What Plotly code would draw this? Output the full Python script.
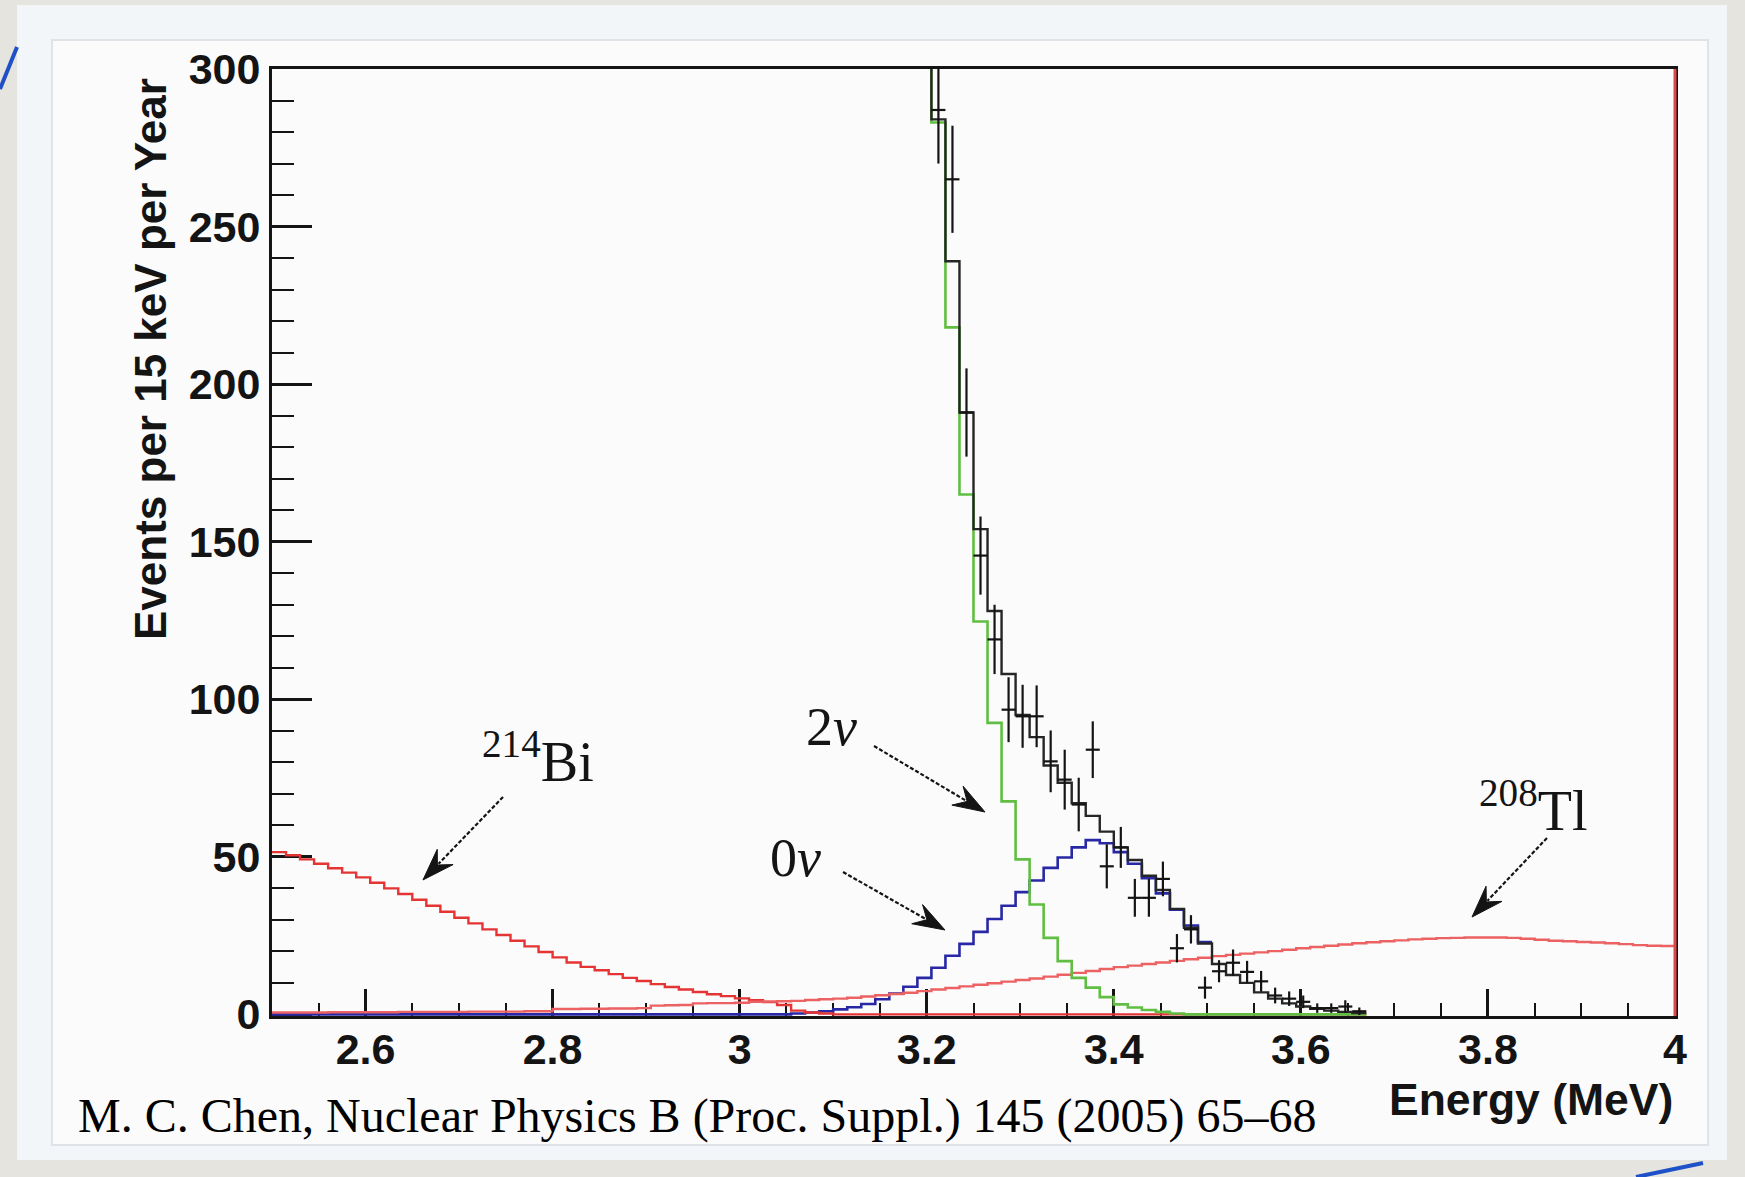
import plotly.graph_objects as go

# 15 keV energy bins starting at 2.5 MeV
E_START = 2.5
BIN_WIDTH = 0.015

# 214Bi background (bins 0..77)
bi214 = [51.5, 50.5, 49.2, 47.8, 46.4, 45.0, 43.5, 41.8, 40.0, 38.2,
         36.4, 34.5, 32.6, 30.7, 28.9, 27.0, 25.2, 23.4, 21.6, 19.8,
         18.1, 16.5, 15.1, 14.0, 12.8, 11.6, 10.6, 9.6, 8.7, 7.9,
         7.1, 6.4, 5.8, 5.1, 4.5, 3.9, 3.0, 1.2, 0.6, 0.3,
         0, 0, 0, 0, 0, 0, 0, 0, 0, 0,
         0, 0, 0, 0, 0, 0, 0, 0, 0, 0,
         0, 0, 0, 0, 0, 0, 0, 0, 0, 0,
         0, 0, 0, 0, 0, 0, 0, 0]

# 208Tl background (bins 0..99)
tl208 = [0.6, 0.6, 0.6, 0.6, 0.7, 0.7, 0.7, 0.7, 0.7, 0.8,
         0.8, 0.8, 0.8, 0.8, 0.9, 0.9, 0.9, 0.9, 1.0, 1.0,
         1.7, 1.7, 1.8, 1.8, 1.9, 1.9, 2.0, 2.8, 2.9, 3.0,
         3.5, 3.6, 3.6, 3.7, 4.0, 4.1, 4.2, 4.3, 4.6, 4.8,
         5.0, 5.3, 5.7, 6.1, 6.5, 6.9, 7.4, 7.9, 8.4, 8.9,
         9.4, 9.9, 10.4, 10.9, 11.4, 12.0, 12.6, 13.2, 13.8, 14.4,
         15.0, 15.5, 16.0, 16.5, 17.0, 17.5, 18.0, 18.5, 18.9, 19.3,
         19.7, 20.1, 20.5, 21.0, 21.4, 21.8, 22.2, 22.6, 22.9, 23.2,
         23.5, 23.8, 24.0, 24.2, 24.3, 24.4, 24.4, 24.4, 24.3, 24.0,
         23.7, 23.4, 23.2, 23.0, 22.8, 22.6, 22.3, 22.0, 21.8, 21.7]

# 0nu signal (bins 0..66)
zero_nu = [0, 0, 0, 0, 0, 0, 0, 0, 0, 0,
           0, 0, 0, 0, 0, 0, 0, 0, 0, 0,
           0, 0, 0, 0, 0, 0, 0, 0, 0, 0,
           0, 0, 0, 0, 0, 0, 0, 0.3, 0.6, 1.0,
           1.6, 2.3, 3.3, 4.8, 6.6, 8.8, 11.6, 14.8, 18.6, 22.4,
           26.2, 30.3, 34.5, 38.8, 42.5, 46.5, 49.8, 53.0, 55.3, 54.3,
           51.5, 47.8, 43.2, 38.4, 33.2, 28.2, 23.0]

# 2nu spectrum (bins 46..77; the first bin runs off the top of the axis)
TWO_NU_FIRST_BIN = 46
two_nu = [360, 283, 218, 165, 124.7, 92.5, 67.6, 49.2, 34.9, 24.3,
          16.9, 11.6, 8.5, 5.5, 3.2, 2.2, 1.4, 0.8, 0.3, 0,
          0, 0, 0, 0, 0, 0, 0, 0, 0, 0,
          0, 0]

# total fit (bins 46..77)
TOTAL_FIRST_BIN = 46
total_fit = [340, 284, 239, 191, 154, 128, 108, 95, 88, 79,
             73.5, 67, 63, 58, 53, 49, 44, 39.5, 33.5, 27.5,
             22.5, 16, 12.5, 10, 7, 5, 3.5, 2.5, 1.8, 1.2,
             0.8, 0.4]

# simulated one-year data (bins 47..77)
DATA_FIRST_BIN = 47
data_counts = [287, 265, 191, 145.6, 119, 96.7, 94.6, 94.6, 80.3, 74.5,
               66.6, 84, 47, 53, 37, 37, 43, 21, 27, 8.5,
               13.7, 16.4, 13.5, 10.5, 6, 5, 4, 2, 2, 2.5,
               1]
data_errors = [17, 17, 14, 12.4, 11, 10.3, 10, 9.8, 9.8, 9.5,
               8.5, 9, 7, 6.5, 6, 6, 5.5, 4.5, 4.5, 3.5,
               3.5, 4.2, 3.5, 3.3, 2.5, 2.3, 2, 1.5, 1.5, 2,
               1.2]

x_tick_vals = [2.6, 2.8, 3.0, 3.2, 3.4, 3.6, 3.8, 4.0]
x_tick_text = ["2.6", "2.8", "3", "3.2", "3.4", "3.6", "3.8", "4"]
y_tick_vals = [0, 50, 100, 150, 200, 250, 300]

# --- page geometry ---
W, H = 1745, 1177
M_L, M_R, M_T, M_B = 272, 70, 69, 161
X_RANGE = [2.5, 4.0]
Y_RANGE = [-0.5, 300]
PLOT_W = W - M_L - M_R
PLOT_H = H - M_T - M_B
PX_PER_E = PLOT_W / (X_RANGE[1] - X_RANGE[0])
PX_PER_V = PLOT_H / (Y_RANGE[1] - Y_RANGE[0])


def px_to_paper(px, py):
    return (px - M_L) / PLOT_W, (H - M_B - py) / PLOT_H


def step_xy(first_bin, values):
    edges = [E_START + BIN_WIDTH * (first_bin + i) for i in range(len(values) + 1)]
    return edges, list(values) + [values[-1]]


SERIF = "Liberation Serif"
SANS = "Liberation Sans"
INK = "#141414"
RED = "rgb(228,52,52)"
RED_TL = "rgb(236,98,98)"
BLUE = "rgb(40,40,165)"
GREEN = "rgb(96,190,66)"

fig = go.Figure()

bx, by = step_xy(0, zero_nu)
fig.add_trace(go.Scatter(x=bx, y=by, mode="lines", line=dict(shape="hv", color=BLUE, width=2.6)))
bix, biy = step_xy(0, bi214)
fig.add_trace(go.Scatter(x=bix, y=biy, mode="lines", line=dict(shape="hv", color=RED, width=2.4)))
tlx, tly = step_xy(0, tl208)
fig.add_trace(go.Scatter(x=tlx, y=tly, mode="lines", line=dict(shape="hv", color=RED_TL, width=2.4)))
gx, gy = step_xy(TWO_NU_FIRST_BIN, two_nu)
fig.add_trace(go.Scatter(x=gx, y=gy, mode="lines", line=dict(shape="hv", color=GREEN, width=2.6)))
tx, ty = step_xy(TOTAL_FIRST_BIN, total_fit)
fig.add_trace(go.Scatter(x=tx, y=ty, mode="lines", line=dict(shape="hv", color="#262626", width=2.4)))

data_x = [E_START + BIN_WIDTH * (DATA_FIRST_BIN + i + 0.5) for i in range(len(data_counts))]
fig.add_trace(go.Scatter(
    x=data_x, y=data_counts, mode="markers",
    marker=dict(size=2, color=INK),
    error_y=dict(type="data", array=data_errors, width=0, thickness=2.2, color=INK),
    error_x=dict(type="constant", value=BIN_WIDTH / 2, width=0, thickness=2.2, color=INK),
))

shapes = []
# slide panel and the embedded figure frame
for (x0, y0, x1, y1, fill, line) in [
    (17, 5, 1727, 1160, "#f3f6f9", "rgba(0,0,0,0)"),
    (52, 40, 1708, 1145, "#fbfbfc", "#dfe2e6"),
]:
    px0, py0 = px_to_paper(x0, y1)
    px1, py1 = px_to_paper(x1, y0)
    shapes.append(dict(type="rect", xref="paper", yref="paper", x0=px0, y0=py0, x1=px1, y1=py1,
                       fillcolor=fill, line=dict(color=line, width=2), layer="below"))
# blue slide accents
for (a, b) in [((0, 89), (17, 47)), ((1636, 1177), (1703, 1163))]:
    ax_, ay_ = px_to_paper(*a)
    bx_, by_ = px_to_paper(*b)
    shapes.append(dict(type="line", xref="paper", yref="paper", x0=ax_, y0=ay_, x1=bx_, y1=by_,
                       line=dict(color="rgb(30,80,200)", width=4), layer="above"))
# red right-hand frame edge
shapes.append(dict(type="line", xref="paper", yref="paper", x0=1, x1=1, y0=0, y1=1,
                   line=dict(color="rgb(222,72,72)", width=3), layer="above"))

# dashed pointer arrows (tail -> tip, in axis units)
arrows = [
    ((2.747, 69.0), (2.6614, 42.66)),
    ((3.1436, 85.18), (3.2623, 64.23)),
    ((3.1105, 45.19), (3.2195, 26.79)),
    ((3.8631, 55.98), (3.783, 30.91)),
]
HEAD_L, HEAD_W = 32, 22
for (te, tv), (he, hv) in arrows:
    dx = (he - te) * PX_PER_E
    dy = (hv - tv) * PX_PER_V
    n = (dx * dx + dy * dy) ** 0.5
    ux, uy = dx / n, dy / n
    ppx, ppy = -uy, ux
    # dashed shaft ends where the head begins
    se = he - ux * HEAD_L * 0.7 / PX_PER_E
    sv = hv - uy * HEAD_L * 0.7 / PX_PER_V
    shapes.append(dict(type="line", xref="x", yref="y", x0=te, y0=tv, x1=se, y1=sv,
                       line=dict(color=INK, width=2.2, dash="4px,2px"), layer="above"))
    pts = [(0, 0),
           (-HEAD_L * ux + HEAD_W / 2 * ppx, -HEAD_L * uy + HEAD_W / 2 * ppy),
           (-0.65 * HEAD_L * ux, -0.65 * HEAD_L * uy),
           (-HEAD_L * ux - HEAD_W / 2 * ppx, -HEAD_L * uy - HEAD_W / 2 * ppy)]
    path = "M " + " L ".join(f"{p[0]:.2f},{p[1]:.2f}" for p in pts) + " Z"
    shapes.append(dict(type="path", xref="x", yref="y", xsizemode="pixel", ysizemode="pixel",
                       xanchor=he, yanchor=hv, path=path, fillcolor=INK,
                       line=dict(color=INK, width=1), layer="above"))

annotations = []
# curve labels
for text, e, v, size in [
    ("<sup>214</sup>Bi", 2.7844, 81.4, 56),
    ("2<i>ν</i>", 3.0977, 91.2, 54),
    ("0<i>ν</i>", 3.0592, 49.6, 54),
    ("<sup>208</sup>Tl", 3.8482, 66.1, 56),
]:
    annotations.append(dict(text=text, x=e, y=v, xref="x", yref="y", showarrow=False,
                            xanchor="center", yanchor="middle",
                            font=dict(family=SERIF, size=size, color=INK)))

yt_x, yt_y = px_to_paper(150, 359)
annotations.append(dict(text="Events per 15 keV per Year", x=yt_x, y=yt_y, xref="paper", yref="paper",
                        textangle=-90, showarrow=False, xanchor="center", yanchor="middle",
                        font=dict(family=SANS, size=44, color=INK, weight="bold")))
_, xt_y = px_to_paper(0, 1099)
annotations.append(dict(text="Energy (MeV)", x=1.0, y=xt_y, xref="paper", yref="paper",
                        showarrow=False, xanchor="right", yanchor="middle",
                        font=dict(family=SANS, size=44.5, color=INK, weight="bold")))
ct_x, ct_y = px_to_paper(76, 1116)
annotations.append(dict(text="M. C. Chen, Nuclear Physics B (Proc. Suppl.) 145 (2005) 65–68",
                        x=ct_x, y=ct_y, xref="paper", yref="paper", showarrow=False,
                        xanchor="left", yanchor="middle",
                        font=dict(family=SERIF, size=48, color="#000000")))

tick_font = dict(family=SANS, size=43, color=INK, weight="bold")
fig.update_layout(
    width=W, height=H, autosize=False,
    margin=dict(l=M_L, r=M_R, t=M_T, b=M_B, pad=0),
    paper_bgcolor="#e6e4df", plot_bgcolor="#fefefe",
    showlegend=False,
    shapes=shapes, annotations=annotations,
    xaxis=dict(range=X_RANGE, tickvals=x_tick_vals, ticktext=x_tick_text,
               ticks="inside", ticklen=27, tickwidth=2.5, tickcolor=INK,
               ticklabelstandoff=-7,
               minor=dict(tick0=2.5, dtick=0.05, ticks="inside", ticklen=13, tickwidth=2, tickcolor=INK),
               showline=True, linecolor=INK, linewidth=3, mirror=True,
               showgrid=False, zeroline=False, tickfont=tick_font, layer="below traces"),
    yaxis=dict(range=Y_RANGE, tickvals=y_tick_vals,
               ticks="inside", ticklen=40, tickwidth=2.5, tickcolor=INK,
               minor=dict(tick0=0, dtick=10, ticks="inside", ticklen=22, tickwidth=2, tickcolor=INK),
               showline=True, linecolor=INK, linewidth=3, mirror=True,
               showgrid=False, zeroline=False, tickfont=tick_font, layer="below traces"),
)

fig.write_html("out.html")
